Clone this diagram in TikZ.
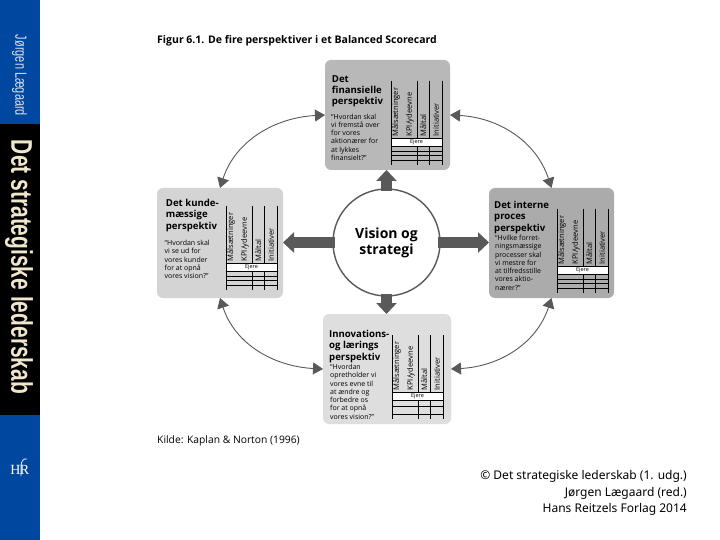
\documentclass[tikz,border=0pt]{standalone}
\usepackage{fontspec}
\usepackage{graphicx}
\setmainfont{Open Sans}
\newfontfamily\barfont{Liberation Sans}
\newfontfamily\notefont{Noto Sans}
\usetikzlibrary{arrows.meta,calc}
\definecolor{sideblue}{HTML}{0047A0}
\definecolor{sidecream}{HTML}{EFE6CC}
\definecolor{sidepale}{HTML}{D5E0EE}
\definecolor{arrowgray}{HTML}{595959}
\tikzset{
  cardbox/.style={rectangle,rounded corners=6pt,minimum width=#1,minimum height=110pt,inner sep=0pt,outer sep=0pt},
  ttl/.style={anchor=north west,inner sep=0pt,align=left,font=\fontsize{9.6}{11.4}\selectfont\bfseries},
  quote/.style={anchor=north west,inner sep=0pt,align=left,font=\fontsize{7}{8.25}\selectfont},
  collabel/.style={rotate=90,anchor=west,inner sep=0pt,font=\fontsize{7.6}{8}\selectfont},
  blockarrow/.style={draw=arrowgray,line width=10.5pt,shorten <=-2.5pt,-{Triangle[length=11pt,width=20pt,fill=arrowgray]}},
  ringarrow/.style={draw=arrowgray,line width=0.9pt,{Triangle[length=10pt,width=12pt,fill=arrowgray]}-{Triangle[length=10pt,width=12pt,fill=arrowgray]}},
  tline/.style={draw=black,line width=0.7pt}
}
% table: origin x, origin y, row offsets below the Ejere row, node name
\newcommand{\scoretable}[4]{%
  \begin{scope}[shift={(#1,#2)}]
    \fill[white] (0,57) rectangle (51,65.5);
    \draw[tline] (0,0) -- (0,84) (26,0) -- (26,57) (38.5,0) -- (38.5,57) (51,0) -- (51,84);
    \draw[tline] (26,65.5) -- (26,84) (38.5,65.5) -- (38.5,84);
    \draw[tline] (0,57) -- (51,57) (0,65.5) -- (51,65.5);
    \foreach \r in {#3} {\draw[tline] (0,\r) -- (51,\r);}
    \node[collabel] (#4a) at (5,55.5) {Målsætninger};
    \node[collabel] (#4b) at (19,55.5) {KPI/ydeevne};
    \node[collabel] (#4c) at (32,55.5) {Måltal};
    \node[collabel] (#4d) at (45,55.5) {Initiativer};
    \node[inner sep=0pt,font=\fontsize{5.5}{6}\selectfont] (#4e) at (25.5,61.2) {Ejere};
  \end{scope}}
\begin{document}
\begin{tikzpicture}[x=1pt,y=-1pt]
\useasboundingbox (0,0) rectangle (720,540);
\fill[white] (0,0) rectangle (720,540);
% sidebar
\fill[sideblue] (0,0) rectangle (40,540);
\fill[black] (0,124) rectangle (40,415);
\node[inner sep=0pt,rotate=-90,text=sidepale] (sideauthor) at (19.5,75.5)
  {\resizebox*{81pt}{15pt}{\barfont Jørgen Lægaard}};
\node[inner sep=0pt,rotate=-90,text=sidecream] (sidetitle) at (19,267)
  {\resizebox*{254pt}{28pt}{\barfont\bfseries Det strategiske lederskab}};
\node[inner sep=0pt,text=white,font=\fontsize{14}{14}\selectfont\rmfamily] (logoh) at (15.5,470) {\fontspec{Liberation Serif}H};
\node[inner sep=0pt,text=white,font=\fontsize{14}{14}\selectfont\rmfamily] (logor) at (24.5,470) {\fontspec{Liberation Serif}R};
\draw[white,line width=0.7pt] (21,476) -- (21,466) .. controls (21,461) and (24,458) .. (27,459);
% heading
\node[anchor=base west,inner sep=0pt,font=\fontsize{10.5}{12}\selectfont\bfseries] (heading) at (157,43.5)
  {Figur 6.1. De fire perspektiver i et Balanced Scorecard};
\node[anchor=base west,inner sep=0pt,font=\fontsize{10.3}{12}\selectfont] (source) at (157,443)
  {Kilde: Kaplan \& Norton (1996)};
% cards
\node[cardbox=125pt,fill=black!28] (top) at (387.5,115) {};
\node[cardbox=126pt,fill=black!17] (left) at (220,243) {};
\node[cardbox=125pt,fill=black!33] (right) at (551.5,243) {};
\node[cardbox=128pt,fill=black!13] (bottom) at (387,369) {};
% centre
\node[circle,draw=arrowgray,line width=1.4pt,fill=white,minimum size=107pt,inner sep=0pt,align=center,
  font=\fontsize{14}{16}\selectfont\bfseries] (centre) at (386.5,242.5) {Vision og\\strategi};
% block arrows
\draw[blockarrow] (centre.north) -- (centre.north |- top.south);
\draw[blockarrow] (centre.south) -- (centre.south |- bottom.north);
\draw[blockarrow] (centre.west) -- (centre.west -| left.east);
\draw[blockarrow] (centre.east) -- (centre.east -| right.west);
% ring arrows
\draw[ringarrow] (top.west) to[out=183,in=72] (left.north);
\draw[ringarrow] (top.east) to[out=-3,in=108] (right.north);
\draw[ringarrow] (bottom.west) to[out=177,in=-72] (left.south);
\draw[ringarrow] (bottom.east) to[out=3,in=-108] (right.south);
% tables
\scoretable{391}{81}{70,74.5,79}{tt}
\scoretable{226}{206}{70,74.5,79}{tl}
\scoretable{557}{209}{70,74.5,79}{tr}
\scoretable{392}{335}{71,79}{tb}
% texts
\node[ttl] (ttop) at (331.7,75) {Det\\finansielle\\perspektiv};
\node[quote] (qtop) at (331,113.5) {“Hvordan skal\\vi fremstå over\\for vores\\aktionærer for\\at lykkes\\finansielt?”};
\node[ttl] (tleft) at (165.7,199) {Det kunde-\\mæssige\\perspektiv};
\node[quote] (qleft) at (164.5,240) {“Hvordan skal\\vi se ud for\\vores kunder\\for at opnå\\vores vision?”};
\node[ttl] (tright) at (494,201) {Det interne\\proces\\perspektiv};
\node[quote] (qright) at (495,235) {“Hvilke forret-\\ningsmæssige\\processer skal\\vi mestre for\\at tilfredsstille\\vores aktio-\\nærer?”};
\node[ttl] (tbottom) at (329,330) {Innovations-\\og lærings\\perspektiv};
\node[quote] (qbottom) at (330,364) {“Hvordan\\opretholder vi\\vores evne til\\at ændre og\\forbedre os\\for at opnå\\vores vision?”};
% footer
\node[anchor=base east,inner sep=0pt,font=\fontsize{12}{12}\notefont] (foot1) at (687,479) {© Det strategiske lederskab (1. udg.)};
\node[anchor=base east,inner sep=0pt,font=\fontsize{12}{12}\notefont] (foot2) at (687,496) {Jørgen Lægaard (red.)};
\node[anchor=base east,inner sep=0pt,font=\fontsize{12}{12}\notefont] (foot3) at (687,512) {Hans Reitzels Forlag 2014};
\end{tikzpicture}
\end{document}
